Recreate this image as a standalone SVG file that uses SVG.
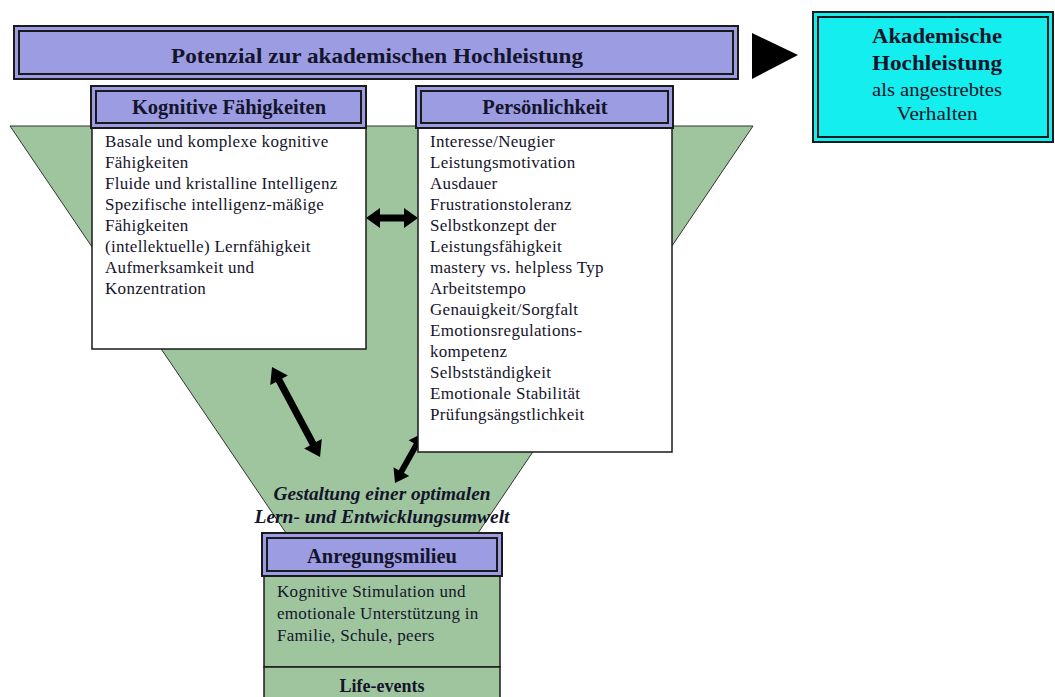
<svg xmlns="http://www.w3.org/2000/svg" width="1055" height="697" viewBox="0 0 1055 697">
  <defs>
    <style>
      text { font-family: "Liberation Serif", "Times New Roman", serif; fill: #14142a; }
      .b { font-weight: bold; }
      .hdr { fill: #9c9ce3; stroke: #1a1a1a; stroke-width: 2; }
      .hdrIn { fill: none; stroke: #1a1a1a; stroke-width: 2; }
      .body { fill: #ffffff; stroke: #1a1a1a; stroke-width: 1.5; }
      .green { fill: #9fc59f; stroke: #1a1a1a; stroke-width: 1.5; }
      .t15 { font-size: 17px; letter-spacing: 0.3px; }
      .ht { font-size: 20.5px; font-weight: bold; }
      .arrow { fill: #000; }
    </style>
  </defs>

  <!-- Funnel background -->
  <g id="funnel">
    <polygon points="10,126 753,126 478,533 286,533" fill="#9fc59f" stroke="#333" stroke-width="1"/>
  </g>

  <!-- Title banner -->
  <g id="potenzial">
    <rect x="14" y="26" width="724" height="53" class="hdr"/>
    <rect x="19" y="31" width="714" height="43" class="hdrIn"/>
    <text x="377" y="63" text-anchor="middle" class="b" font-size="21" textLength="412" lengthAdjust="spacingAndGlyphs">Potenzial zur akademischen Hochleistung</text>
  </g>

  <g id="connectors">
    <!-- big arrow to result -->
    <polygon class="arrow" points="752,33 798,55 752,79"/>
    <!-- horizontal double arrow -->
    <polygon class="arrow" points="366,218 380,208 380,214.5 404,214.5 404,208 418,218 404,228 404,221.5 380,221.5 380,228"/>
    <!-- diagonal arrow 1 -->
    <g transform="translate(272,367) rotate(61.9)">
      <polygon class="arrow" points="0,0 15,-10 15,-3.5 87,-3.5 87,-10 102,0 87,10 87,3.5 15,3.5 15,10"/>
    </g>
    <!-- diagonal arrow 2 -->
    <g transform="translate(395,483) rotate(-60.75)">
      <polygon class="arrow" points="0,0 13,-9 13,-3 44,-3 44,-9 57,0 44,9 44,3 13,3 13,9"/>
    </g>
  </g>

  <!-- Akademische Hochleistung -->
  <g id="akademische">
    <rect x="813" y="12" width="240" height="130" fill="#14eeee" stroke="#1a1a1a" stroke-width="2"/>
    <rect x="818" y="17" width="230" height="120" fill="none" stroke="#1a1a1a" stroke-width="2"/>
    <text x="937" y="43" text-anchor="middle" class="b" font-size="21" textLength="130" lengthAdjust="spacingAndGlyphs">Akademische</text>
    <text x="937" y="70" text-anchor="middle" class="b" font-size="21" textLength="130" lengthAdjust="spacingAndGlyphs">Hochleistung</text>
    <text x="937" y="96" text-anchor="middle" font-size="19" textLength="130" lengthAdjust="spacingAndGlyphs">als angestrebtes</text>
    <text x="937" y="120" text-anchor="middle" font-size="19" textLength="81" lengthAdjust="spacingAndGlyphs">Verhalten</text>
  </g>

  <!-- Kognitive Fähigkeiten -->
  <g id="kognitive">
    <rect x="92" y="128" width="274" height="221" class="body"/>
    <rect x="91" y="86" width="275" height="42" class="hdr"/>
    <rect x="96" y="91" width="265" height="32" class="hdrIn"/>
    <text x="229" y="114" text-anchor="middle" class="ht">Kognitive Fähigkeiten</text>
    <text class="t15" x="105" y="147">Basale und komplexe kognitive</text>
    <text class="t15" x="105" y="168">Fähigkeiten</text>
    <text class="t15" x="105" y="189">Fluide und kristalline Intelligenz</text>
    <text class="t15" x="105" y="210">Spezifische intelligenz-mäßige</text>
    <text class="t15" x="105" y="231">Fähigkeiten</text>
    <text class="t15" x="105" y="252">(intellektuelle) Lernfähigkeit</text>
    <text class="t15" x="105" y="273">Aufmerksamkeit und</text>
    <text class="t15" x="105" y="294">Konzentration</text>
  </g>

  <!-- Persönlichkeit -->
  <g id="persoenlichkeit">
    <rect x="418" y="128" width="254" height="324" class="body"/>
    <rect x="416" y="86" width="257" height="42" class="hdr"/>
    <rect x="421" y="91" width="247" height="32" class="hdrIn"/>
    <text x="545" y="114" text-anchor="middle" class="ht">Persönlichkeit</text>
    <text class="t15" x="430" y="147">Interesse/Neugier</text>
    <text class="t15" x="430" y="168">Leistungsmotivation</text>
    <text class="t15" x="430" y="189">Ausdauer</text>
    <text class="t15" x="430" y="210">Frustrationstoleranz</text>
    <text class="t15" x="430" y="231">Selbstkonzept der</text>
    <text class="t15" x="430" y="252">Leistungsfähigkeit</text>
    <text class="t15" x="430" y="273">mastery vs. helpless Typ</text>
    <text class="t15" x="430" y="294">Arbeitstempo</text>
    <text class="t15" x="430" y="315">Genauigkeit/Sorgfalt</text>
    <text class="t15" x="430" y="336">Emotionsregulations-</text>
    <text class="t15" x="430" y="357">kompetenz</text>
    <text class="t15" x="430" y="378">Selbstständigkeit</text>
    <text class="t15" x="430" y="399">Emotionale Stabilität</text>
    <text class="t15" x="430" y="420">Prüfungsängstlichkeit</text>
  </g>

  <!-- Gestaltung label -->
  <g id="gestaltung">
    <text x="382" y="500" text-anchor="middle" class="b" font-style="italic" font-size="19" textLength="217" lengthAdjust="spacingAndGlyphs">Gestaltung einer optimalen</text>
    <text x="382" y="523" text-anchor="middle" class="b" font-style="italic" font-size="19" textLength="255" lengthAdjust="spacingAndGlyphs">Lern- und Entwicklungsumwelt</text>
  </g>

  <!-- Anregungsmilieu -->
  <g id="anregungsmilieu">
    <rect x="264" y="576" width="236" height="91" class="green"/>
    <rect x="264" y="667" width="236" height="40" class="green"/>
    <rect x="262" y="533" width="240" height="43" class="hdr"/>
    <rect x="267" y="538" width="230" height="33" class="hdrIn"/>
    <text x="382" y="563" text-anchor="middle" class="ht">Anregungsmilieu</text>
    <text class="t15" x="277" y="597">Kognitive Stimulation und</text>
    <text class="t15" x="277" y="619">emotionale Unterstützung in</text>
    <text class="t15" x="277" y="641">Familie, Schule, peers</text>
    <text x="382" y="692" text-anchor="middle" class="b" font-size="18">Life-events</text>
  </g>
</svg>
